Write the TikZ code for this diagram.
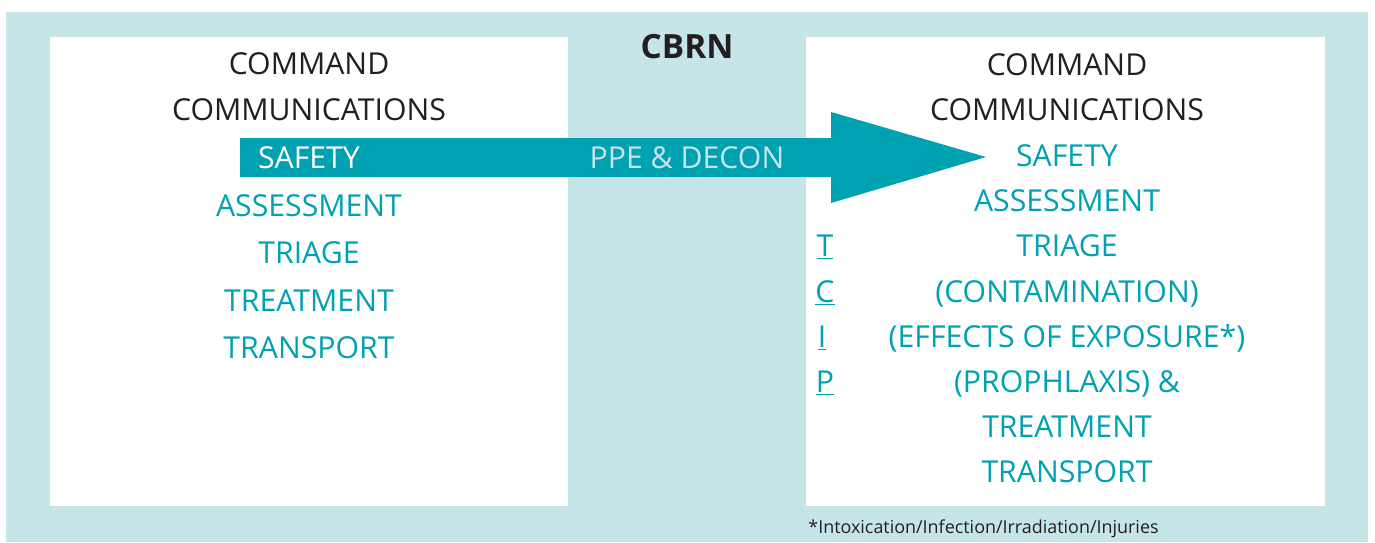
\documentclass[tikz,border=0pt]{standalone}
\usepackage{fontspec}
\setmainfont{Open Sans}
\usetikzlibrary{positioning}

\definecolor{cbrnteal}{HTML}{00A1B1}
\definecolor{cbrnpale}{HTML}{C5E5E8}
\definecolor{cbrndark}{HTML}{231F20}

\tikzset{
    step line/.style={anchor=base, inner sep=0pt, text=cbrnteal, font=\fontsize{17.2}{19}\selectfont},
    head line/.style={step line, text=cbrndark},
    panel/.style={fill=white, draw=none},
}

\begin{document}
\begin{tikzpicture}[x=0.02cm, y=-0.02cm]
    \useasboundingbox (0,0) rectangle (1375,542);
    \fill[white] (0,0) rectangle (1375,542);
    \fill[cbrnpale] (6,12) rectangle (1368,542);

    % the two panels
    \path[panel] (50,37) rectangle (568,506);
    \path[panel] (806,37) rectangle (1325,506);

    % big arrow through the middle
    \coordinate (tail top) at (240,138);
    \coordinate (tail bot) at (240,177);
    \coordinate (tip) at (986,157);
    \fill[cbrnteal] (tail top) -- (831,138) -- (831,112) -- (tip)
        -- (831,203) -- (831,177) -- (tail bot) -- cycle;

    \node[anchor=base, inner sep=0pt, text=cbrndark, font=\fontsize{19}{22}\selectfont\bfseries] (cbrn) at (687,58) {CBRN};
    \node[step line, text=cbrnpale] (ppe) at (687,168) {PPE \& DECON};

    % left panel
    \node[head line] (cmdL) at (309,74) {COMMAND};
    \node[head line] (commL) at (309,120) {COMMUNICATIONS};
    \node[step line, text=white] (safeL) at (309,168) {SAFETY};
    \node[step line] (assessL) at (309,216) {ASSESSMENT};
    \node[step line] (triageL) at (309,263) {TRIAGE};
    \node[step line] (treatL) at (309,311) {TREATMENT};
    \node[step line] (transL) at (309,358) {TRANSPORT};

    % right panel
    \node[head line] (cmdR) at (1067,75) {COMMAND};
    \node[head line] (commR) at (1067,120) {COMMUNICATIONS};
    \node[step line] (safeR) at (1067,166) {SAFETY};
    \node[step line] (assessR) at (1067,211) {ASSESSMENT};
    \node[step line] (triageR) at (1067,256) {TRIAGE};
    \node[step line] (contR) at (1067,302) {(CONTAMINATION)};
    \node[step line] (effR) at (1067,347) {(EFFECTS OF EXPOSURE*)};
    \node[step line] (prophR) at (1067,392) {(PROPHLAXIS) \&};
    \node[step line] (treatR) at (1067,437) {TREATMENT};
    \node[step line] (transR) at (1067,482) {TRANSPORT};

    % TCIP initials
    \node[step line] (tT) at (825,256) {\underline{T}};
    \node[step line] (tC) at (825,302) {\underline{C}};
    \node[step line] (tI) at (822,347) {\underline{I}};
    \node[step line] (tP) at (825,392) {\underline{P}};

    \node[anchor=base west, inner sep=0pt, text=cbrndark, font=\fontsize{10.2}{12}\selectfont] (note) at (808,533) {*Intoxication/Infection/Irradiation/Injuries};
\end{tikzpicture}
\end{document}
